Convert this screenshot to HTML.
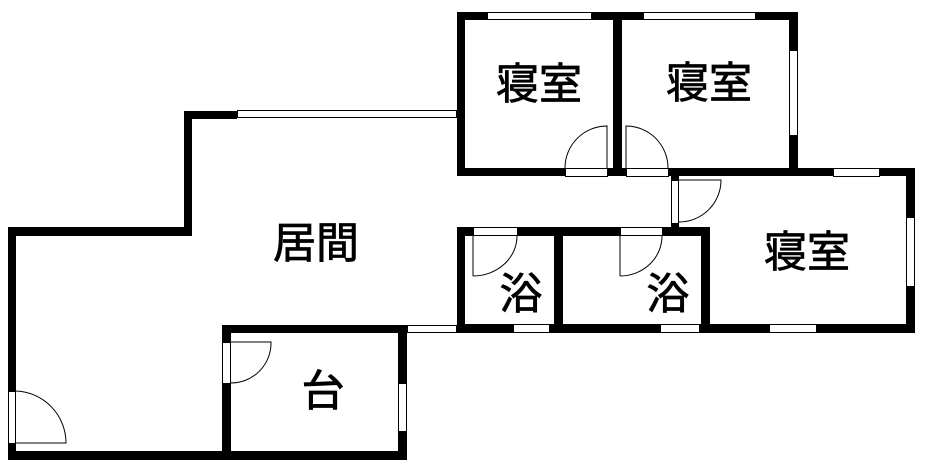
<!DOCTYPE html>
<html><head><meta charset="utf-8"><style>
html,body{margin:0;padding:0;background:#fff;width:944px;height:472px;overflow:hidden}
svg{display:block}
text{font-family:"Liberation Sans","Noto Sans CJK JP",sans-serif;font-size:43px;fill:#000;stroke:#000;stroke-width:0.8;text-anchor:middle;dominant-baseline:central}
</style></head><body>
<svg width="944" height="472" viewBox="0 0 944 472" xmlns="http://www.w3.org/2000/svg">
<g fill="#000">
<rect x="8" y="227" width="184" height="9"/>
<rect x="184" y="111" width="8" height="125"/>
<rect x="184" y="111" width="53" height="8"/>
<rect x="8" y="227" width="8" height="233"/>
<rect x="8" y="451" width="399" height="9"/>
<rect x="222" y="325" width="9" height="135"/>
<rect x="222" y="325" width="185" height="8"/>
<rect x="398" y="325" width="9" height="135"/>
<rect x="457" y="12" width="341" height="8"/>
<rect x="457" y="12" width="8" height="164"/>
<rect x="613" y="12" width="9" height="164"/>
<rect x="789" y="12" width="9" height="164"/>
<rect x="457" y="168" width="458" height="8"/>
<rect x="906" y="168" width="9" height="165"/>
<rect x="671" y="168" width="8" height="68"/>
<rect x="457" y="227" width="253" height="9"/>
<rect x="457" y="227" width="8" height="106"/>
<rect x="554" y="227" width="9" height="106"/>
<rect x="701" y="227" width="9" height="106"/>
<rect x="457" y="324" width="458" height="9"/>
</g>
<g fill="#fff" stroke="#000" stroke-width="1">
<rect x="237.5" y="110.5" width="219" height="7"/>
<rect x="407.5" y="325.5" width="49" height="7"/>
<rect x="487.5" y="12.5" width="104" height="7"/>
<rect x="643.5" y="12.5" width="112" height="7"/>
<rect x="789.5" y="50.5" width="8" height="85"/>
<rect x="833.5" y="168.5" width="46" height="8"/>
<rect x="906.5" y="217.5" width="8" height="69"/>
<rect x="473.5" y="227.5" width="44" height="8"/>
<rect x="620.5" y="227.5" width="42" height="8"/>
<rect x="513.5" y="324.5" width="36" height="8"/>
<rect x="660.5" y="324.5" width="39" height="8"/>
<rect x="769.5" y="324.5" width="47" height="8"/>
<rect x="398.5" y="383.5" width="8" height="48"/>
<rect x="8.5" y="391.5" width="7" height="52"/>
<rect x="222.5" y="342.5" width="8" height="41"/>
<rect x="565.5" y="168.5" width="42" height="8"/>
<rect x="626.5" y="168.5" width="42" height="8"/>
<rect x="671.5" y="180.5" width="7" height="43"/>
</g>
<g fill="none" stroke="#000" stroke-width="1">
<path d="M16 391 A52 52 0 0 1 66 443 L16 443"/>
<path d="M231 342 L271 342 A40 40 0 0 1 231 383"/>
<path d="M607 168 L607 126 A42 42 0 0 0 565 168"/>
<path d="M626 168 L626 126 A42 42 0 0 1 668 168"/>
<path d="M679 180 L721 180 A42 42 0 0 1 679 222"/>
<path d="M473 236 L473 276 M517 236 A44 40 0 0 1 473 276"/>
<path d="M620 236 L620 276 M662 236 A42 40 0 0 1 620 276"/>
</g>
<text x="539" y="85">寝室</text>
<text x="709" y="84">寝室</text>
<text x="807" y="253">寝室</text>
<text x="316" y="244">居間</text>
<text x="323" y="392">台</text>
<text x="521" y="295">浴</text>
<text x="668" y="295">浴</text>
</svg>
</body></html>
